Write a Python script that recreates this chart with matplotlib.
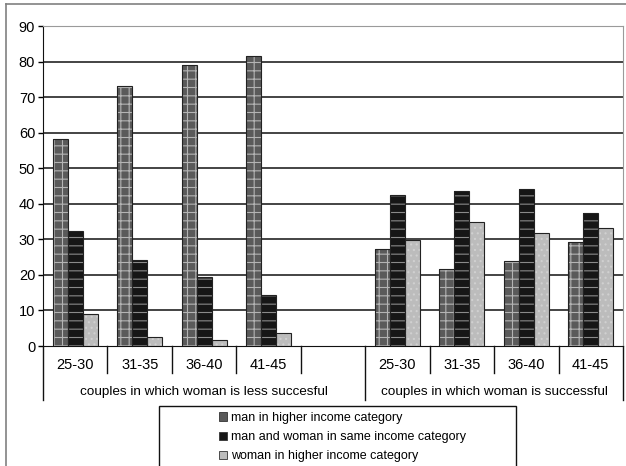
import matplotlib
matplotlib.use("Agg")
import matplotlib.pyplot as plt
from matplotlib.patches import Rectangle
from matplotlib.lines import Line2D
import numpy as np

plt.rcParams['font.family'] = ['Liberation Sans', 'DejaVu Sans']
plt.rcParams['hatch.linewidth'] = 0.8

age_groups = ["25-30", "31-35", "36-40", "41-45"]
group_names = ["couples in which woman is less succesful",
               "couples in which woman is successful"]
series_names = ["man in higher income category",
                "man and woman in same income category",
                "woman in higher income category"]

# less successful women (left block)
less_man_higher = [58.2, 73.0, 78.9, 81.6]
less_same = [32.4, 24.1, 19.3, 14.3]
less_woman_higher = [8.9, 2.5, 1.8, 3.7]

# successful women (right block)
succ_man_higher = [27.3, 21.7, 23.8, 29.2]
succ_same = [42.5, 43.5, 44.1, 37.3]
succ_woman_higher = [29.8, 34.8, 31.9, 33.2]

W, H = 626, 466
fig = plt.figure(figsize=(W / 100, H / 100), dpi=100)
fig.patch.set_facecolor('white')
ax = fig.add_axes([43 / W, 1 - 346 / H, (623 - 43) / W, (346 - 26) / H])

# slots 0-3 left block, slot 4 empty, slots 5-8 right block
pos = np.array([0, 1, 2, 3, 5, 6, 7, 8])
bw = 0.232
series = [less_man_higher + succ_man_higher,
          less_same + succ_same,
          less_woman_higher + succ_woman_higher]
faces = ['#5a5a5a', '#161616', '#bcbcbc']
hatch_cols = ['#b4b4b4', '#8a8a8a', '#d0d0d0']
hatches = ['++', '--', '...']

for i, vals in enumerate(series):
    x = pos + (i - 1) * bw
    ax.bar(x, vals, width=bw, color=faces[i], edgecolor='none', zorder=3)
    ax.bar(x, vals, width=bw, color='none', edgecolor=hatch_cols[i],
           hatch=hatches[i], linewidth=0, zorder=3.1)
    ax.bar(x, vals, width=bw, color='none', edgecolor='#222222',
           linewidth=0.8, zorder=3.2)

ax.set_xlim(-0.5, 8.5)
ax.set_ylim(0, 90)
ax.set_yticks(range(0, 91, 10))
ax.tick_params(axis='y', length=3.6, width=1, labelsize=10.5, pad=2)
ax.set_xticks([])
for y in range(10, 90, 10):
    ax.axhline(y, color='#111111', linewidth=1.1, zorder=1)

ax.spines['left'].set_color('#111111')
ax.spines['bottom'].set_color('#111111')
ax.spines['top'].set_color('#9a9a9a')
ax.spines['top'].set_linestyle((0, (1, 1)))
ax.spines['right'].set_color('#9a9a9a')

# category axis below the plot
trans = ax.get_xaxis_transform()
short_y = -27 / 320
long_y = -54 / 320
for xd in [0.5, 1.5, 2.5, 3.5, 5.5, 6.5, 7.5]:
    ax.plot([xd, xd], [0, short_y], color='#111111', linewidth=1,
            transform=trans, clip_on=False)
for xd in [-0.5, 4.5, 8.5]:
    ax.plot([xd, xd], [0, long_y], color='#111111', linewidth=1,
            transform=trans, clip_on=False)
for xd, lab in zip(pos, age_groups + age_groups):
    ax.text(xd, -19 / 320, lab, ha='center', va='center', fontsize=10.5,
            transform=trans)
ax.text(2.0, -46 / 320, group_names[0], ha='center', va='center',
        fontsize=9.7, transform=trans)
ax.text(6.5, -46 / 320, group_names[1], ha='center', va='center',
        fontsize=9.7, transform=trans)

# outer frame (left and top edges only)
fig.add_artist(Line2D([6 / W, 6 / W], [0, 1 - 4 / H], color='#808080',
                      linewidth=1.2))
fig.add_artist(Line2D([6 / W, 1], [1 - 4 / H, 1 - 4 / H], color='#808080',
                      linewidth=1.2))

# legend box running off the bottom edge
fig.add_artist(Rectangle((159 / W, -0.05), (516 - 159) / W,
                         1 - 406 / H + 0.05, transform=fig.transFigure,
                         facecolor='white', edgecolor='#111111',
                         linewidth=1))
hs = []
for i in range(3):
    hs.append(Rectangle((0, 0), 1, 1, facecolor=faces[i],
                        edgecolor='#333333', linewidth=0.6))
leg = fig.legend(hs, series_names, loc='upper left',
                 bbox_to_anchor=(209 / W, 1 - 402 / H), frameon=False,
                 fontsize=9, handlelength=0.65, handleheight=0.65,
                 handletextpad=0.3, labelspacing=0.58, borderpad=0.3)

fig.savefig("out.png", dpi=100)
plt.close(fig)
